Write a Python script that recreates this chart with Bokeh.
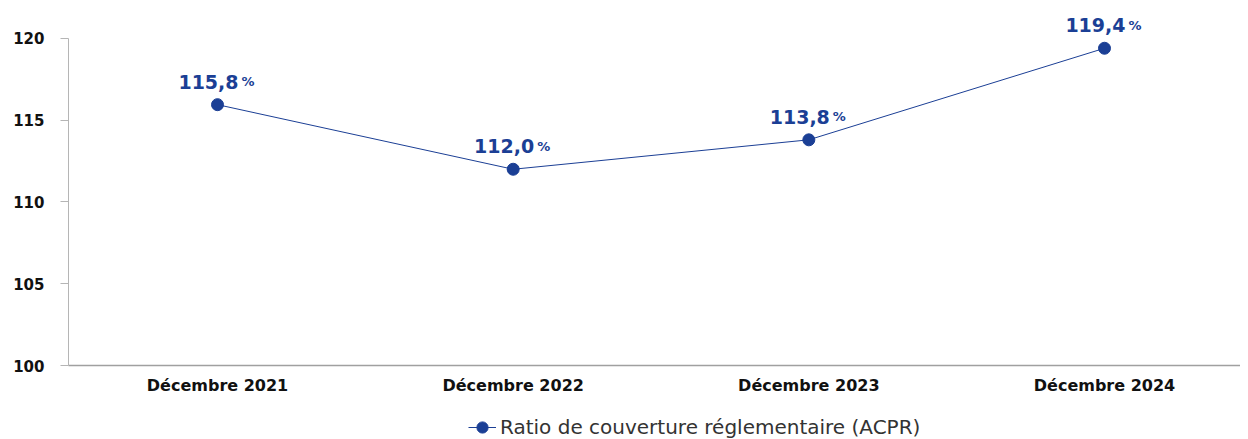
from bokeh.plotting import figure
from bokeh.layouts import column
from bokeh.models import Range1d, Legend, LegendItem, ColumnDataSource, FixedTicker
from bokeh.core.properties import value
from bokeh.embed import file_html
from bokeh.resources import INLINE

categories = ["Décembre 2021", "Décembre 2022", "Décembre 2023", "Décembre 2024"]
values = [115.95, 112.0, 113.8, 119.4]
value_labels = ["115,8", "112,0", "113,8", "119,4"]
y_ticks = [100, 105, 110, 115, 120]
series_name = "Ratio de couverture réglementaire (ACPR)"

BLUE = "#1b3f95"
FONT = "DejaVu Sans"

xs = list(range(len(categories)))
src = ColumnDataSource(dict(x=xs, y=values, lab=value_labels, pct=["%"] * len(xs)))

p = figure(width=1240, height=400, output_backend="svg", toolbar_location=None,
           x_range=Range1d(-0.504, 3.46), y_range=Range1d(100, 122.32),
           min_border_left=68, min_border_top=0, min_border_right=0, min_border_bottom=35)
p.outline_line_color = None
p.grid.visible = False

line = p.line("x", "y", source=src, color=BLUE, line_width=1)
dots = p.scatter("x", "y", source=src, size=12, color=BLUE)

p.text("x", "y", text="lab", source=src, text_align="right", text_baseline="alphabetic",
       x_offset=21, y_offset=-23, text_font=value(FONT),
       text_font_style="bold", text_font_size="19px", text_color=BLUE)
p.text("x", "y", text="pct", source=src, text_align="left", text_baseline="alphabetic",
       x_offset=24, y_offset=-23, text_font=value(FONT),
       text_font_style="bold", text_font_size="13px", text_color=BLUE)

p.yaxis.ticker = FixedTicker(ticks=y_ticks)
p.yaxis.bounds = (100, 120)
p.yaxis.axis_line_color = "#b5b5b5"
p.yaxis.major_tick_line_color = "#b5b5b5"
p.yaxis.major_tick_out = 8
p.yaxis.major_tick_in = 0
p.yaxis.minor_tick_line_color = None
p.yaxis.major_label_text_font = FONT
p.yaxis.major_label_text_font_style = "bold"
p.yaxis.major_label_text_font_size = "15px"
p.yaxis.major_label_text_color = "#111111"
p.yaxis.major_label_standoff = 16

p.xaxis.ticker = FixedTicker(ticks=xs)
p.xaxis.major_label_overrides = {i: c for i, c in enumerate(categories)}
p.xaxis.axis_line_color = "#a0a0a0"
p.xaxis.axis_line_width = 1.5
p.xaxis.major_tick_line_color = None
p.xaxis.major_tick_out = 0
p.xaxis.major_tick_in = 0
p.xaxis.minor_tick_line_color = None
p.xaxis.major_label_text_font = FONT
p.xaxis.major_label_text_font_style = "bold"
p.xaxis.major_label_text_font_size = "16px"
p.xaxis.major_label_text_color = "#111111"
p.xaxis.major_label_standoff = 10

# legend strip below the chart (series drawn outside its visible range, only the legend shows)
lg = figure(width=1240, height=39, output_backend="svg", toolbar_location=None,
            x_range=Range1d(-100, -99), y_range=Range1d(-100, -99),
            min_border_left=0, min_border_top=0, min_border_right=0, min_border_bottom=0)
lg.outline_line_color = None
lg.axis.visible = False
lg.grid.visible = False
lg_line = lg.line("x", "y", source=src, color=BLUE, line_width=1)
lg_dot = lg.scatter("x", "y", source=src, size=12, color=BLUE)

legend = Legend(items=[LegendItem(label=series_name, renderers=[lg_line, lg_dot])],
                orientation="horizontal", location=(400, -2),
                label_text_font=FONT, label_text_font_size="20px", label_text_color="#333333",
                glyph_width=28, glyph_height=28, label_height=28,
                border_line_color=None, background_fill_alpha=0,
                padding=0, margin=0, label_standoff=4)
lg.add_layout(legend, "center")

layout = column(p, lg, spacing=0)
open("out.html", "w").write(file_html(layout, INLINE))
